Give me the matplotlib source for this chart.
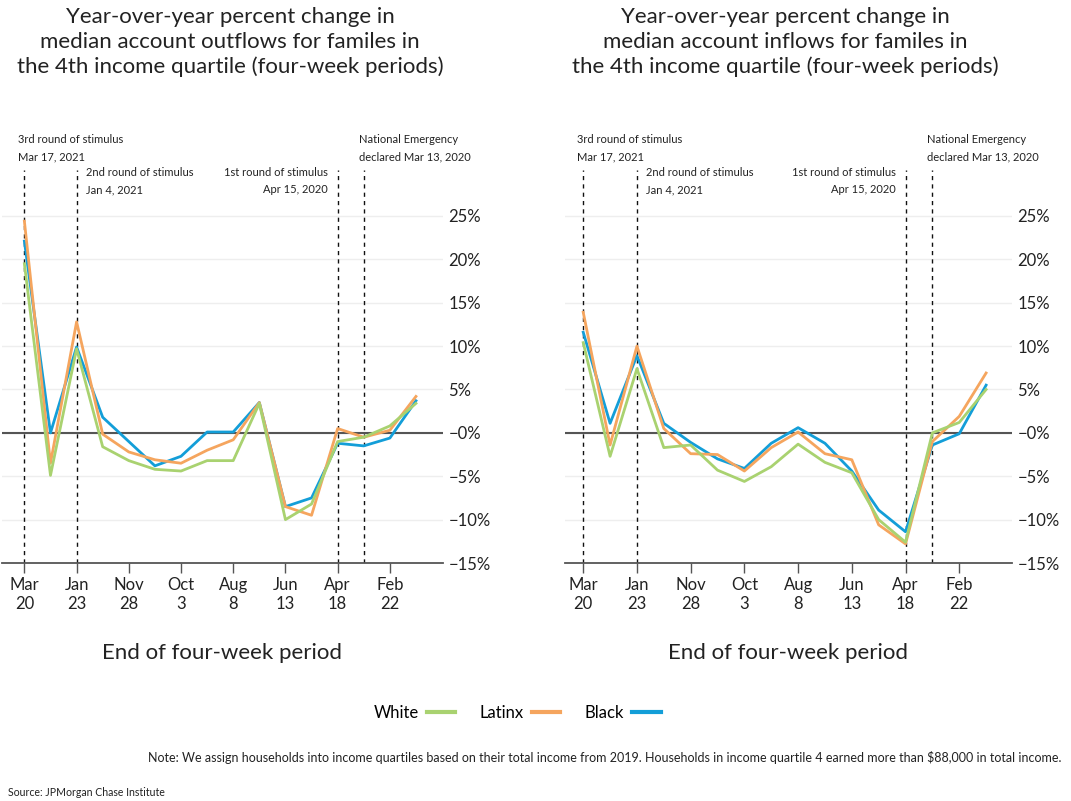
import matplotlib
matplotlib.use("Agg")
import matplotlib.pyplot as plt
import matplotlib.transforms as mtransforms
import matplotlib.dates as mdates
import pandas as pd

plt.rcParams['font.family'] = ['Lato', 'DejaVu Sans']

# ---- data ----
periods = pd.date_range("2020-01-25", periods=16, freq="28D")  # end of four-week period

out_black  = [3.7, -0.6, -1.5, -1.2, -7.5, -8.5, 3.5, 0.1, 0.1, -2.7, -3.8, -1.0, 1.8, 9.9, 0.0, 22.1]
out_latinx = [4.2, 0.3, -0.5, 0.5, -9.5, -8.5, 3.5, -0.8, -2.0, -3.5, -3.1, -2.2, -0.15, 12.8, -3.5, 24.4]
out_white  = [3.4, 0.8, -0.5, -1.0, -8.2, -10.0, 3.4, -3.2, -3.2, -4.4, -4.2, -3.2, -1.6, 9.7, -4.9, 19.5]

in_black  = [5.5, -0.1, -1.4, -11.4, -8.9, -4.4, -1.2, 0.6, -1.2, -4.1, -3.0, -1.1, 1.1, 8.9, 1.1, 11.6]
in_latinx = [6.9, 1.9, -1.0, -12.8, -10.6, -3.1, -2.4, 0.1, -1.7, -4.4, -2.5, -2.4, 0.5, 10.0, -1.4, 13.9]
in_white  = [5.0, 1.2, 0.0, -12.6, -10.0, -4.6, -3.4, -1.3, -3.9, -5.6, -4.3, -1.4, -1.7, 7.4, -2.7, 10.4]

series_names = ["Black", "Latinx", "White"]
series_colors = ["#139ed8", "#f5a55e", "#a9d270"]

tick_dates = pd.to_datetime(["2020-02-22", "2020-04-18", "2020-06-13", "2020-08-08",
                             "2020-10-03", "2020-11-28", "2021-01-23", "2021-03-20"])
tick_labels = ["Feb\n22", "Apr\n18", "Jun\n13", "Aug\n8", "Oct\n3", "Nov\n28", "Jan\n23", "Mar\n20"]

y_ticks = [-15, -10, -5, 0, 5, 10, 15, 20, 25]
y_tick_labels = ["\u221215%", "\u221210%", "\u22125%", "\u22120%", "5%", "10%", "15%", "20%", "25%"]

event_dates = pd.to_datetime(["2020-03-21", "2020-04-18", "2021-01-23", "2021-03-20"])
event_labels = ["National Emergency\ndeclared Mar 13, 2020",
                "1st round of stimulus\nApr 15, 2020",
                "2nd round of stimulus\nJan 4, 2021",
                "3rd round of stimulus\nMar 17, 2021"]

titles = ["Year-over-year percent change in\nmedian account outflows for familes in\nthe 4th income quartile (four-week periods)",
          "Year-over-year percent change in\nmedian account inflows for familes in\nthe 4th income quartile (four-week periods)"]

# ---- figure ----
fig = plt.figure(figsize=(10.71, 8.01), dpi=100)
W, H = 1071, 801

def px_axes(x0, x1, y_top, y_bot):
    return fig.add_axes([x0 / W, 1 - y_bot / H, (x1 - x0) / W, (y_bot - y_top) / H])

ax_out = px_axes(2, 443, 170, 563)
ax_in = px_axes(565, 1012, 170, 563)

panels = [
    (ax_out, [out_black, out_latinx, out_white],
     (pd.Timestamp("2021-04-13"), pd.Timestamp("2019-12-27")), 230, titles[0]),
    (ax_in, [in_black, in_latinx, in_white],
     (pd.Timestamp("2021-04-08"), pd.Timestamp("2019-12-29")), 785, titles[1]),
]

# event label placement: (ha, dx pixels, dy pixels relative to axes top)
event_place = [("left", -5, 22), ("right", -10, -11), ("left", 9, -11), ("left", -6, 22)]

handles = []
for ax, data, xlim, tx, title in panels:
    ax.set_xlim(*xlim)  # reversed time axis (mirrored layout)
    ax.set_ylim(-15, 30.3)
    for s in ["top", "left", "right"]:
        ax.spines[s].set_visible(False)
    ax.spines["bottom"].set_color("#555555")
    ax.spines["bottom"].set_linewidth(1.3)
    ax.set_yticks(y_ticks)
    ax.set_yticklabels(y_tick_labels)
    ax.yaxis.tick_right()
    ax.tick_params(axis="y", length=0, pad=4, labelsize=12, labelcolor="#222222")
    ax.set_xticks(tick_dates)
    ax.set_xticklabels(tick_labels, linespacing=1.25)
    ax.tick_params(axis="x", length=7, color="#555555", width=1, pad=3, labelsize=12,
                   labelcolor="#222222")
    ax.grid(axis="y", color="#eeeeee", linewidth=1)
    ax.set_axisbelow(True)
    ax.axhline(0, color="#555555", linewidth=1.5, zorder=2)
    for d in event_dates:
        ax.axvline(d, color="#111111", linewidth=1, linestyle=(0, (3, 3)), zorder=1)
    trans = mtransforms.blended_transform_factory(ax.transData, ax.transAxes)
    for d, lab, (ha, dx, dy) in zip(event_dates, event_labels, event_place):
        ax.annotate(lab, xy=(mdates.date2num(d), 1.0), xycoords=trans, xytext=(dx, dy),
                    textcoords="offset pixels", ha=ha, va="center", multialignment=ha,
                    fontsize=8.0, linespacing=1.65, color="#222222", annotation_clip=False)
    hs = []
    for vals, name, col in zip(data, series_names, series_colors):
        h, = ax.plot(periods, vals, color=col, linewidth=2, label=name, zorder=3)
        hs.append(h)
    handles = hs
    ax.set_xlabel("End of four-week period", fontsize=16, labelpad=22, color="#222222")
    fig.text(tx / W, 1 - 42 / H, title,
             ha="center", va="center", fontsize=16, linespacing=1.3, color="#222222")

leg = fig.legend(handles[::-1], series_names[::-1], loc="center", bbox_to_anchor=(517 / W, 1 - 713 / H),
                 ncol=3, frameon=False, markerfirst=False, fontsize=12, handlelength=1.7,
                 columnspacing=1.45, handletextpad=0.5)
for lh in leg.get_lines():
    lh.set_linewidth(3)

fig.text(1062 / W, 1 - 758 / H,
         "Note: We assign households into income quartiles based on their total income from 2019. "
         "Households in income quartile 4 earned more than $88,000 in total income.",
         ha="right", va="center", fontsize=9.0, color="#222222")
fig.text(8 / W, 1 - 793 / H, "Source: JPMorgan Chase Institute", ha="left", va="center",
         fontsize=7.6, color="#222222")

fig.savefig("out.png", dpi=100, facecolor="white")
